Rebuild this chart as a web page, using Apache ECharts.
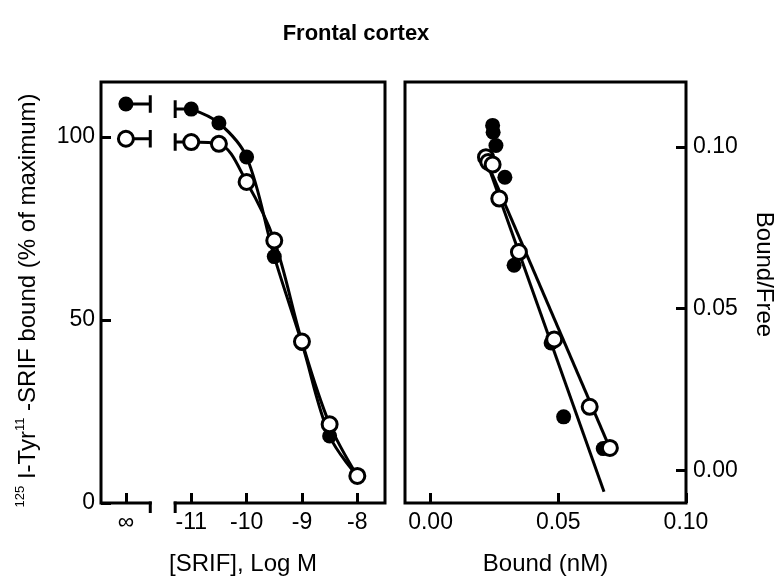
<!DOCTYPE html>
<html><head><meta charset="utf-8">
<script src="https://cdn.jsdelivr.net/npm/echarts@6/dist/echarts.min.js"></script>
<style>html,body{margin:0;padding:0;background:#fff}#c{width:779px;height:581px}</style>
</head><body><div id="c"></div>
<script>
// ---- Data ----
// Left panel: competition curves, x = log[SRIF] (M), y = % of maximum
const logConc = [-11, -10.5, -10, -9.5, -9, -8.5, -8];
const filledPct = [107.6, 103.8, 94.5, 67.3, 43.6, 18.3, 7.4];
const openPct = [98.6, 98.1, 87.7, 71.7, 44.1, 21.5, 7.4];
// values at "infinity" (no competitor) shown left of the axis break
const infLog = -12.18;
const filledInf = 109;
const openInf = 99.5;
// Right panel: Scatchard plot, x = Bound (nM), y = Bound/Free
const boundFilled = [0.0243, 0.0245, 0.0256, 0.0291, 0.0327, 0.0472, 0.0521, 0.0676];
const bfFilled    = [0.1066, 0.1045, 0.1004, 0.0906, 0.0634, 0.0394, 0.0166, 0.0068];
const boundOpen   = [0.0217, 0.0226, 0.0243, 0.0269, 0.0346, 0.0484, 0.0623, 0.0702];
const bfOpen      = [0.0968, 0.0953, 0.0945, 0.0840, 0.0675, 0.0405, 0.0197, 0.0070];
// regression lines (end points)
const fitFilledX = [0.0220, 0.0679];
const fitFilledY = [0.0954, -0.0065];
const fitOpenX = [0.0220, 0.0701];
const fitOpenY = [0.0954, 0.0071];
// tick values
const leftXTicks = [infLog, -11, -10, -9, -8];
const leftYTicks = [0, 50, 100];
const rightXTicks = [0, 0.05, 0.10];
const rightYTicks = [0, 0.05, 0.10];

// ---- Layout / style constants ----
const breakA = -11.74, breakB = -11.29;
const FONT = 'Arial, "Liberation Sans", sans-serif';
const LW = 3;
const TICK_FS = 23;
const NAME_FS = 24;
const zip = (a, b) => a.map((v, i) => [v, b[i]]);

const chart = echarts.init(document.getElementById('c'));

function lineSeries(data, g, width, z, smooth) {
  return {
    type: 'line', xAxisIndex: g, yAxisIndex: g, data: data,
    symbol: 'none', smooth: smooth || false, silent: true, z: z || 2,
    lineStyle: { color: '#000', width: width || 3 }, animation: false
  };
}
function scatter(data, g, open, z) {
  return {
    type: 'scatter', xAxisIndex: g, yAxisIndex: g, data: data,
    symbol: 'circle', symbolSize: 15, z: z, animation: false,
    itemStyle: open ? { color: '#fff', borderColor: '#000', borderWidth: 3, opacity: 1 }
                    : { color: '#000', borderColor: '#000', borderWidth: 0, opacity: 1 }
  };
}
const capH = 2.4;
const axisCommon = {
  axisLine: { show: false, onZero: false },
  splitLine: { show: false },
  axisTick: { show: true, inside: true, length: 10, lineStyle: { color: '#000', width: LW } },
  axisLabel: { color: '#000', fontFamily: FONT, fontSize: TICK_FS },
  nameTextStyle: { color: '#000', fontFamily: FONT, fontSize: NAME_FS }
};

const option = {
  backgroundColor: '#fff',
  animation: false,
  title: {
    text: 'Frontal cortex', left: 351, top: 18, textAlign: 'center',
    textStyle: { fontFamily: FONT, fontWeight: 'bold', fontSize: 22, color: '#000' }
  },
  grid: [
    { left: 101, top: 82, width: 284, height: 422, show: true, borderColor: '#000', borderWidth: LW, backgroundColor: 'transparent' },
    { left: 405, top: 82, width: 281, height: 421, show: true, borderColor: '#000', borderWidth: LW, backgroundColor: 'transparent' }
  ],
  xAxis: [
    Object.assign({}, axisCommon, {
      gridIndex: 0, type: 'value', min: -12.63, max: -7.5,
      axisTick: Object.assign({}, axisCommon.axisTick, { customValues: leftXTicks }),
      axisLabel: Object.assign({}, axisCommon.axisLabel, {
        customValues: leftXTicks, margin: 8,
        formatter: v => Math.abs(v - infLog) < 1e-6 ? '∞' : String(v)
      }),
      name: '[SRIF], Log M', nameLocation: 'middle', nameGap: 49
    }),
    Object.assign({}, axisCommon, {
      gridIndex: 1, type: 'value', min: -0.01, max: 0.10,
      axisTick: Object.assign({}, axisCommon.axisTick, { customValues: rightXTicks }),
      axisLabel: Object.assign({}, axisCommon.axisLabel, {
        customValues: rightXTicks, margin: 8, formatter: v => v.toFixed(2)
      }),
      name: 'Bound (nM)', nameLocation: 'middle', nameGap: 49
    })
  ],
  yAxis: [
    Object.assign({}, axisCommon, {
      gridIndex: 0, type: 'value', min: 0, max: 115,
      axisTick: Object.assign({}, axisCommon.axisTick, { customValues: leftYTicks }),
      axisLabel: Object.assign({}, axisCommon.axisLabel, { customValues: leftYTicks, margin: 6 }),
      name: '{sup|125}{m| I-Tyr}{sup|11}{m| -SRIF bound (% of maximum)}',
      nameLocation: 'middle', nameRotate: 90, nameGap: 59,
      nameTextStyle: {
        fontFamily: FONT, fontSize: NAME_FS, color: '#000', padding: [0, 16, 0, 0],
        rich: {
          m: { fontFamily: FONT, fontSize: NAME_FS, color: '#000', lineHeight: 28 },
          sup: { fontFamily: FONT, fontSize: 13, color: '#000', lineHeight: 28, verticalAlign: 'top' }
        }
      }
    }),
    Object.assign({}, axisCommon, {
      gridIndex: 1, type: 'value', position: 'right', min: -0.01, max: 0.12,
      axisTick: Object.assign({}, axisCommon.axisTick, { customValues: rightYTicks }),
      axisLabel: Object.assign({}, axisCommon.axisLabel, { customValues: rightYTicks, margin: 7, formatter: v => v.toFixed(2) }),
      name: 'Bound/Free', nameLocation: 'middle', nameRotate: -90, nameGap: 66,
      nameTextStyle: { color: '#000', fontFamily: FONT, fontSize: NAME_FS, padding: [0, 36, 0, 0] }
    })
  ],
  series: [
    // left panel curves
    lineSeries(zip(logConc, filledPct), 0, 3, 2, 0.35),
    lineSeries(zip(logConc, openPct), 0, 3, 2, 0.35),
    lineSeries([[infLog, filledInf], [breakA, filledInf]], 0, 3),
    lineSeries([[infLog, openInf], [breakA, openInf]], 0, 3),
    lineSeries([[breakB, filledPct[0]], [logConc[0], filledPct[0]]], 0, 3),
    lineSeries([[breakB, openPct[0]], [logConc[0], openPct[0]]], 0, 3),
    lineSeries([[breakA, filledInf - capH], [breakA, filledInf + capH]], 0, 3),
    lineSeries([[breakA, openInf - capH], [breakA, openInf + capH]], 0, 3),
    lineSeries([[breakB, filledPct[0] - capH], [breakB, filledPct[0] + capH]], 0, 3),
    lineSeries([[breakB, openPct[0] - capH], [breakB, openPct[0] + capH]], 0, 3),
    scatter(zip([infLog].concat(logConc), [filledInf].concat(filledPct)), 0, false, 3),
    scatter(zip([infLog].concat(logConc), [openInf].concat(openPct)), 0, true, 4),
    // right panel
    lineSeries(zip(fitFilledX, fitFilledY), 1, 3),
    lineSeries(zip(fitOpenX, fitOpenY), 1, 3),
    scatter(zip(boundFilled, bfFilled), 1, false, 3),
    scatter(zip(boundOpen, bfOpen), 1, true, 4)
  ]
};
chart.setOption(option);

// axis-break decoration on the left panel's x axis, positioned through the axis scales
const pA = chart.convertToPixel({ xAxisIndex: 0 }, breakA);
const pB = chart.convertToPixel({ xAxisIndex: 0 }, breakB);
const y0 = chart.convertToPixel({ yAxisIndex: 0 }, 0);
chart.setOption({
  graphic: [
    { type: 'rect', shape: { x: pA + 1.5, y: y0 - 3, width: pB - pA - 3, height: 6 }, style: { fill: '#fff' }, z: 100 },
    { type: 'line', shape: { x1: pA, y1: y0 - 1.5, x2: pA, y2: y0 + 10 }, style: { stroke: '#000', lineWidth: LW }, z: 101 },
    { type: 'line', shape: { x1: pB, y1: y0 - 1.5, x2: pB, y2: y0 + 10 }, style: { stroke: '#000', lineWidth: LW }, z: 101 }
  ]
});
</script></body></html>
